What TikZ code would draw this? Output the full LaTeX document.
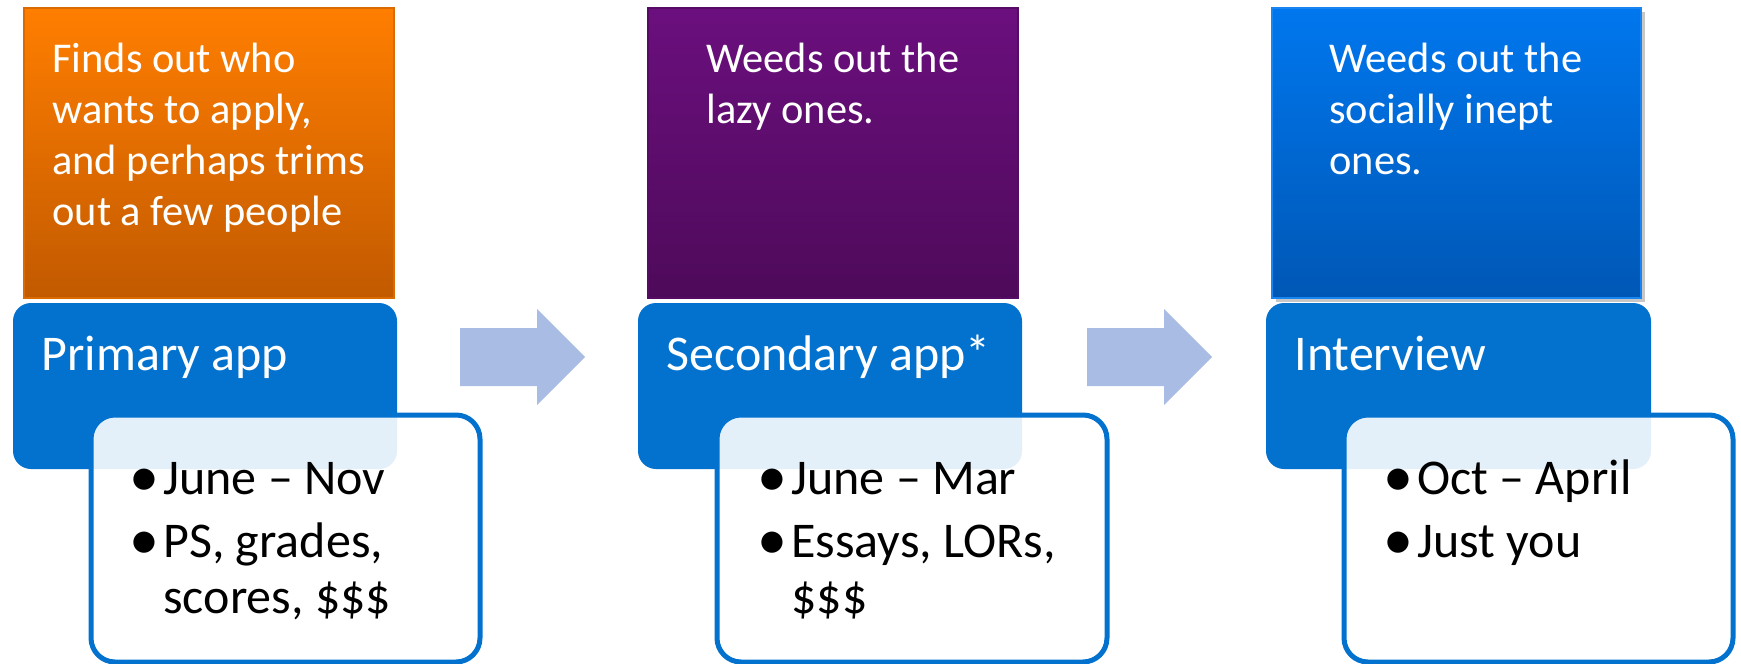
\documentclass[tikz,border=0pt]{standalone}
\usepackage{fontspec}
\setmainfont{Carlito}
\usepackage{xcolor}

\definecolor{orangetop}{HTML}{FF7E00}
\definecolor{orangebot}{HTML}{C25A00}
\definecolor{purpletop}{HTML}{6B0F7E}
\definecolor{purplebot}{HTML}{4E0A5A}
\definecolor{bluetop}{HTML}{0077EE}
\definecolor{bluebot}{HTML}{0057B5}
\definecolor{stageblue}{HTML}{0272CE}
\definecolor{arrowblue}{HTML}{A9BCE3}

\tikzset{
  % base west of a multi-line node sits on its last line
  toptext/.style={text=white, anchor=base west, inner sep=0pt, align=left,
    font=\fontsize{21.2}{25.5}\selectfont},
  stagetext/.style={text=white, anchor=base west, inner sep=0pt,
    font=\fontsize{25}{28}\selectfont},
  listtext/.style={text=black, anchor=base west, inner sep=0pt, align=left,
    font=\fontsize{25}{28}\selectfont},
}
\newcommand{\bul}{\makebox[17pt][l]{\raisebox{-1.2pt}{\fontsize{30}{28}\selectfont •}}}

\begin{document}
\begin{tikzpicture}[x=0.5pt,y=-0.5pt,
    stagebox/.style={fill=stageblue, rounded corners=9pt},
    listbox/.style={fill=white, fill opacity=0.89, draw=stageblue,
      line width=2.5pt, rounded corners=12pt},
    flowarrow/.style={fill=arrowblue}]

  \useasboundingbox (0,0) rectangle (1741,664);

  % Stage 1: primary application
  \draw[top color=orangetop, bottom color=orangebot, draw=orangetop!85!black, line width=0.6pt]
    (24,8) rectangle (394,298);
  \node[toptext] (why1) at (52,225)
    {Finds out who\\wants to apply,\\and perhaps trims\\out a few people};
  \fill[stagebox] (13,303) rectangle (397,469);
  \node[stagetext] (stage1) at (41,370) {Primary app};
  \draw[listbox] (91,415) rectangle (480,662);
  \node[listtext] (list1) at (129,613)
    {\bul June – Nov\\[3.5pt]\bul PS, grades,\\\hspace*{17pt}scores, \$\$\$};

  % Arrow 1 -> 2
  \coordinate (a1) at (460,328);
  \coordinate (t1) at (585,357);
  \fill[flowarrow] (a1) -- (537,328) -- (537,309) -- (t1) -- (537,405) -- (537,386) -- (460,386) -- cycle;

  % Stage 2: secondary application
  \draw[top color=purpletop, bottom color=purplebot, draw=purpletop!80!black, line width=0.6pt]
    (648,8) rectangle (1018,298);
  \node[toptext] (why2) at (706,123) {Weeds out the\\lazy ones.};
  \fill[stagebox] (638,303) rectangle (1022,469);
  \node[stagetext] (stage2) at (666,370) {Secondary app*};
  \draw[listbox] (717,415) rectangle (1107,662);
  \node[listtext] (list2) at (757,613)
    {\bul June – Mar\\[3.5pt]\bul Essays, LORs,\\\hspace*{17pt}\$\$\$};

  % Arrow 2 -> 3
  \coordinate (a2) at (1087,328);
  \coordinate (t2) at (1212,357);
  \fill[flowarrow] (a2) -- (1164,328) -- (1164,309) -- (t2) -- (1164,405) -- (1164,386) -- (1087,386) -- cycle;

  % Stage 3: interview
  \fill[black!22] (1276,12) rectangle (1645,302);
  \draw[top color=bluetop, bottom color=bluebot, draw=bluetop!90!white, line width=0.6pt]
    (1272,8) rectangle (1641,298);
  \node[toptext] (why3) at (1329,174) {Weeds out the\\socially inept\\ones.};
  \fill[stagebox] (1266,303) rectangle (1651,469);
  \node[stagetext] (stage3) at (1294,370) {Interview};
  \draw[listbox] (1344,415) rectangle (1733,662);
  \node[listtext] (list3) at (1383,557)
    {\bul Oct – April\\[3.5pt]\bul Just you};

\end{tikzpicture}
\end{document}
